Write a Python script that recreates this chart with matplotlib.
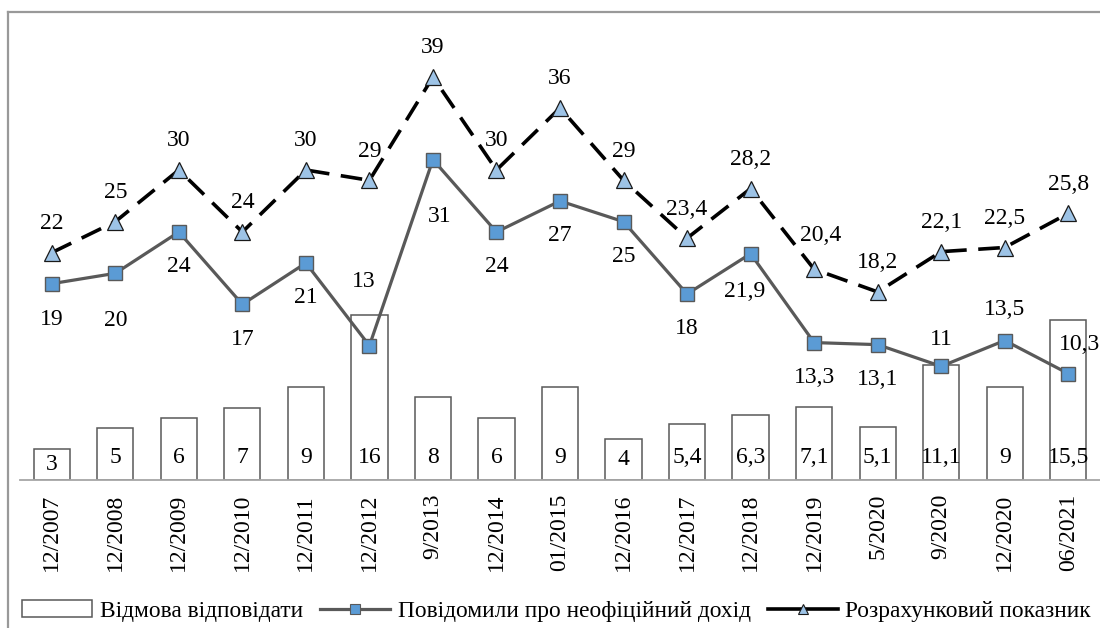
import numpy as np
import matplotlib.pyplot as plt
from matplotlib.lines import Line2D
from matplotlib.patches import Patch

plt.rcParams['font.family'] = ['Liberation Serif', 'DejaVu Serif']

periods = ['12/2007', '12/2008', '12/2009', '12/2010', '12/2011', '12/2012',
           '9/2013', '12/2014', '01/2015', '12/2016', '12/2017', '12/2018',
           '12/2019', '5/2020', '9/2020', '12/2020', '06/2021']
refusal = [3, 5, 6, 7, 9, 16, 8, 6, 9, 4, 5.4, 6.3, 7.1, 5.1, 11.1, 9, 15.5]
informal = [19, 20, 24, 17, 21, 13, 31, 24, 27, 25, 18, 21.9, 13.3, 13.1, 11, 13.5, 10.3]
estimate = [22, 25, 30, 24, 30, 29, 39, 30, 36, 29, 23.4, 28.2, 20.4, 18.2, 22.1, 22.5, 25.8]

names = ['Відмова відповідати', 'Повідомили про неофіційний дохід',
         'Розрахунковий показник']

# label offsets (points) for the square series, hand tuned to follow the original
sq_off = [(0, -26), (0, -34), (0, -25), (0, -25), (0, -25), (-4, 46),
          (5, -41), (0, -25), (0, -25), (0, -25), (0, -25), (-4, -27),
          (0, -25), (0, -25), (0, 19), (0, 22), (8, 21)]
tri_off = [(0, 21)] * 17
tri_off[12] = (5, 24)


def fmt(v):
    s = f'{v:g}'
    return s.replace('.', ',')


def main():
    fig = plt.figure(figsize=(11, 6.28), dpi=100)

    # outer frame: only top and left edges fall inside the picture
    frame = fig.add_axes([8 / 1100, 0.0, 1 - 8 / 1100, 1 - 12 / 628],
                         zorder=-1)
    frame.set_xticks([])
    frame.set_yticks([])
    for side in ['bottom', 'right']:
        frame.spines[side].set_visible(False)
    for side in ['top', 'left']:
        frame.spines[side].set_color('#999999')
        frame.spines[side].set_linewidth(1.6)

    ax = fig.add_axes([20 / 1100, 1 - 480 / 628, 1080 / 1100, 465 / 628])
    ax.patch.set_visible(False)
    x = np.arange(len(periods))

    ax.bar(x, refusal, width=0.57, color='white', edgecolor='#595959',
           linewidth=1.1, zorder=2)
    ax.plot(x, informal, color='#595959', lw=2.3, marker='s', ms=10,
            mfc='#5B9BD5', mec='#595959', mew=1.0, zorder=3)
    ax.plot(x, estimate, color='black', lw=2.6, dashes=(6, 3.2),
            marker='^', ms=11, mfc='#9DC3E6', mec='#1a1a1a', mew=0.9,
            zorder=4)

    for i, v in enumerate(refusal):
        ax.text(x[i], min(v / 2, 2.2), fmt(v), ha='center', va='center',
                fontsize=17, zorder=5)
    for i, v in enumerate(informal):
        ax.annotate(fmt(v), (x[i], v), xytext=sq_off[i],
                    textcoords='offset points', ha='center', va='center',
                    fontsize=17, zorder=5, annotation_clip=False)
    for i, v in enumerate(estimate):
        ax.annotate(fmt(v), (x[i], v), xytext=tri_off[i],
                    textcoords='offset points', ha='center', va='center',
                    fontsize=17, zorder=5)

    ax.set_xlim(-0.5, 16.5)
    ax.set_ylim(0, 45)
    ax.set_xticks(x)
    ax.set_xticklabels(periods, rotation=90, fontsize=17)
    ax.tick_params(axis='x', length=0, pad=10)
    ax.set_yticks([])
    for side in ['top', 'right', 'left']:
        ax.spines[side].set_visible(False)
    ax.spines['bottom'].set_color('#A6A6A6')
    ax.spines['bottom'].set_linewidth(1.3)

    # legend handles: small markers, solid lines like in the original
    handles = [
        Patch(facecolor='white', edgecolor='#595959', linewidth=1.1),
        Line2D([], [], color='#595959', lw=2.3, marker='s', ms=7,
               mfc='#5B9BD5', mec='#595959', mew=0.8),
        Line2D([], [], color='black', lw=2.6, marker='^', ms=7,
               mfc='#9DC3E6', mec='#1a1a1a', mew=0.8),
    ]
    fig.legend(handles, names, loc='center',
               bbox_to_anchor=(0.506, 1 - 611 / 628), ncol=3,
               frameon=False, fontsize=16.8, handlelength=3,
               handletextpad=0.33, columnspacing=0.73)

    fig.savefig('out.png')


if __name__ == '__main__':
    main()
